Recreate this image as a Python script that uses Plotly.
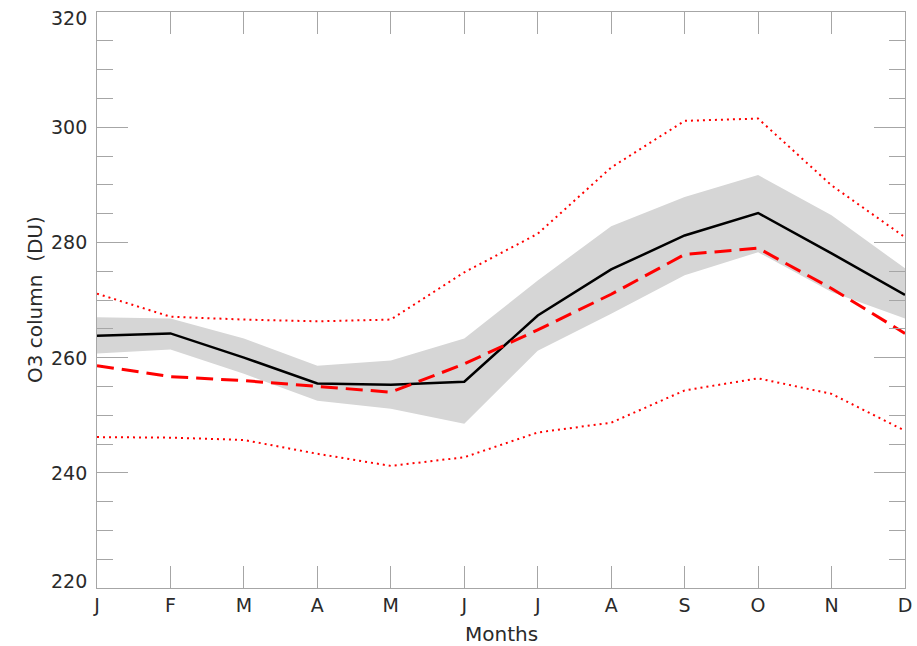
import plotly.graph_objects as go

months = ["J", "F", "M", "A", "M", "J", "J", "A", "S", "O", "N", "D"]
month_idx = list(range(12))

mean_obs = [263.8, 264.2, 260.0, 255.5, 255.3, 255.8, 267.3, 275.3, 281.2, 285.1, 278.1, 270.9]
band_upper = [267.0, 266.8, 263.3, 258.6, 259.5, 263.3, 273.4, 282.8, 287.9, 291.7, 284.7, 275.5]
band_lower = [260.7, 261.4, 257.2, 252.5, 251.1, 248.5, 261.2, 267.6, 274.3, 278.3, 271.4, 266.8]
model_mean = [258.6, 256.7, 256.0, 255.0, 254.0, 258.9, 264.8, 271.0, 277.9, 279.0, 272.0, 264.2]
model_upper = [271.1, 267.1, 266.6, 266.3, 266.6, 274.8, 281.5, 293.0, 301.1, 301.5, 289.9, 280.9]
model_lower = [246.2, 246.1, 245.7, 243.3, 241.2, 242.7, 247.0, 248.7, 254.3, 256.4, 253.7, 247.3]

y_major = [220, 240, 260, 280, 300, 320]
y_title = "O3 column  (DU)"
x_title = "Months"

FONT = "DejaVu Sans"
TXT = "#2a2a2a"
AX = "#a6a6a6"

fig = go.Figure()
fig.add_trace(go.Scatter(x=month_idx, y=band_upper, mode="lines", line=dict(width=0, color="#d6d6d6"),
                         showlegend=False, hoverinfo="skip"))
fig.add_trace(go.Scatter(x=month_idx, y=band_lower, mode="lines", line=dict(width=0, color="#d6d6d6"),
                         fill="tonexty", fillcolor="#d6d6d6", showlegend=False, hoverinfo="skip"))
fig.add_trace(go.Scatter(x=month_idx, y=model_upper, mode="lines",
                         line=dict(color="#ff0000", width=2, dash="2px,4px"), showlegend=False))
fig.add_trace(go.Scatter(x=month_idx, y=model_lower, mode="lines",
                         line=dict(color="#ff0000", width=2, dash="2px,4px"), showlegend=False))
fig.add_trace(go.Scatter(x=month_idx, y=mean_obs, mode="lines",
                         line=dict(color="#000000", width=2.5), showlegend=False))
fig.add_trace(go.Scatter(x=month_idx, y=model_mean, mode="lines",
                         line=dict(color="#ff0000", width=3, dash="17px,8px"), showlegend=False))

annotations = []
for v in y_major:
    shift = 0
    if v == y_major[-1]:
        shift = -6
    elif v == y_major[0]:
        shift = 7
    annotations.append(dict(x=0, xref="paper", y=v, yref="y", text=str(v), showarrow=False,
                            xanchor="right", yanchor="middle", xshift=-8, yshift=shift,
                            font=dict(family=FONT, size=19, color=TXT)))
annotations.append(dict(x=0, xref="paper", y=0.5, yref="paper", text=y_title, showarrow=False,
                        textangle=-90, xanchor="center", yanchor="middle", xshift=-62,
                        font=dict(family=FONT, size=20, color=TXT)))
annotations.append(dict(x=0.5, xref="paper", y=0, yref="paper", text=x_title, showarrow=False,
                        xanchor="center", yanchor="middle", yshift=-46,
                        font=dict(family=FONT, size=20, color=TXT)))

fig.update_layout(
    width=917, height=646,
    margin=dict(l=97, r=12, t=12, b=58, autoexpand=False),
    paper_bgcolor="white", plot_bgcolor="white",
    annotations=annotations,
    xaxis=dict(range=[0, 11], tickmode="array", tickvals=month_idx, ticktext=months,
               ticks="inside", ticklen=22, tickcolor=AX, tickwidth=1,
               showline=True, linecolor=AX, linewidth=1, mirror="ticks",
               showgrid=False, zeroline=False, automargin=False,
               tickfont=dict(family=FONT, size=19, color=TXT)),
    yaxis=dict(range=[220, 320], tickmode="array", tickvals=y_major,
               ticks="inside", ticklen=31, tickcolor=AX, tickwidth=1,
               minor=dict(dtick=5, tick0=220, ticks="inside", ticklen=16, tickcolor=AX, showgrid=False),
               showline=True, linecolor=AX, linewidth=1, mirror="ticks", automargin=False,
               showgrid=False, zeroline=False, showticklabels=False),
)

fig.write_html("out.html")
